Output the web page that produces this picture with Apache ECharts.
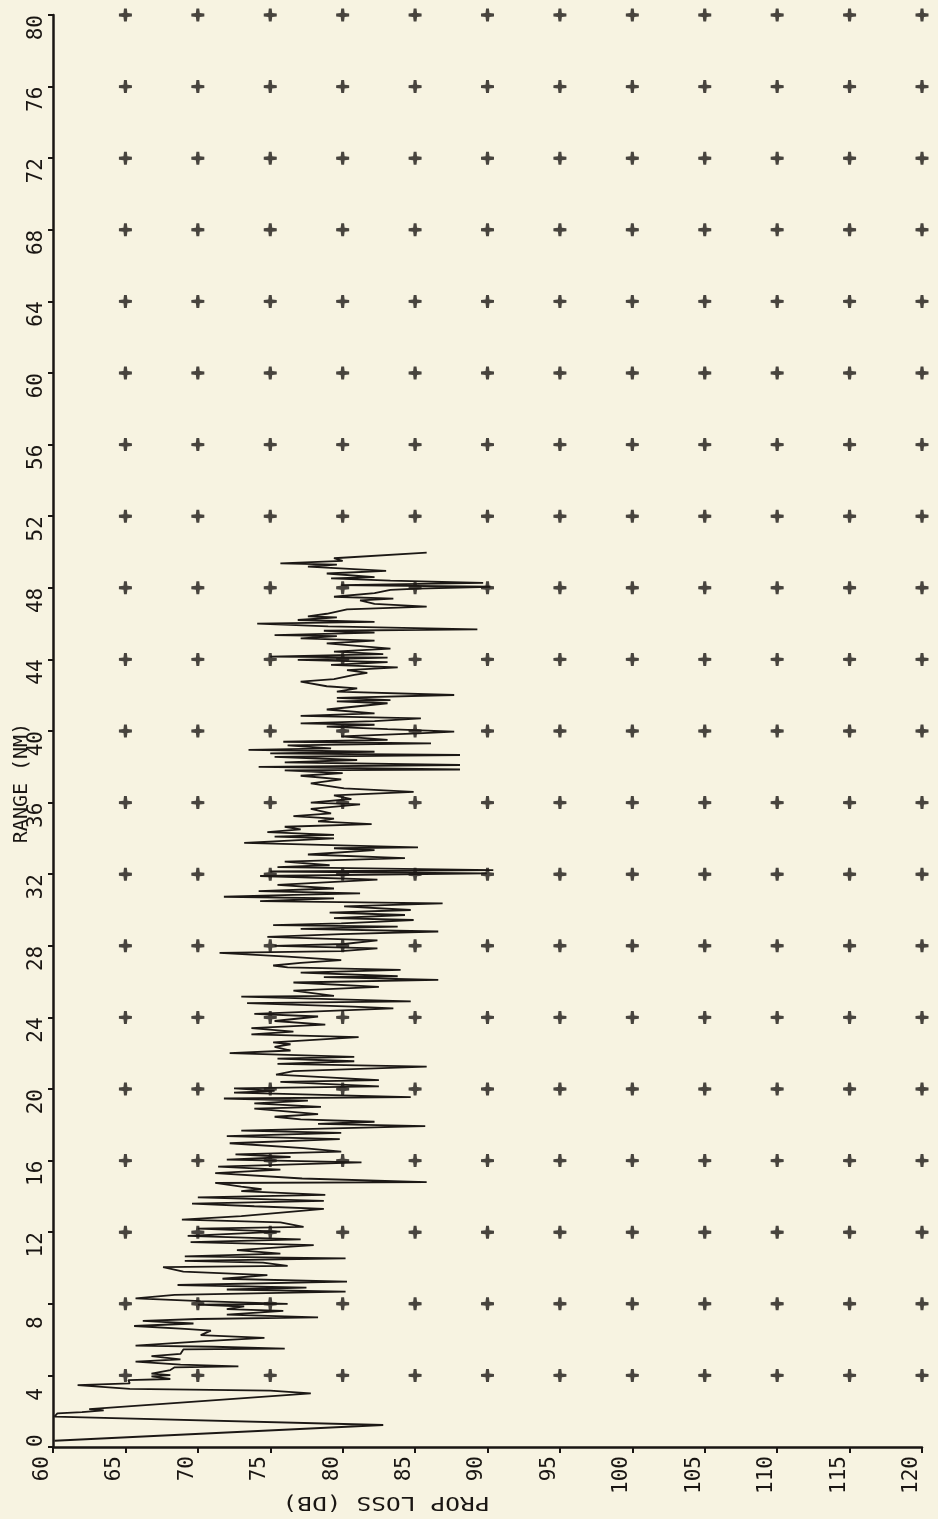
<!DOCTYPE html>
<html>
<head>
<meta charset="utf-8">
<script src="https://cdn.jsdelivr.net/npm/echarts@6/dist/echarts.min.js"></script>
<style>
html,body{margin:0;padding:0;background:#f7f3e1;}
#chart{width:938px;height:1519px;}
</style>
</head>
<body>
<div id="chart"></div>
<script>
// Axis ticks
const lossTicks = [65, 70, 75, 80, 85, 90, 95, 100, 105, 110, 115, 120];
const rangeTicks = [4, 8, 12, 16, 20, 24, 28, 32, 36, 40, 44, 48, 52, 56, 60, 64, 68, 72, 76, 80];

// Propagation loss trace: [range (NM), prop loss (dB)]
const traceBand0 = [
  [0.35,60.1],[1.23,82.8],[1.7,60.1],[1.88,60.3],[1.95,62.0],[2.05,63.5],[2.12,62.5],[3.0,77.8],
  [3.15,75.0],[3.25,65.3],[3.46,61.7],[3.55,65.3],[3.74,65.2],[3.8,68.1],[3.95,66.8],[4.02,68.1]
];
const traceBand1 = [
  [4.1,66.8],[4.3,68.1],[4.45,68.4],[4.5,72.8],[4.6,68.8],[4.77,65.7],[4.9,68.8],[5.08,66.8],
  [5.2,68.8],[5.45,69.0],[5.5,76.0],[5.6,71.1],[5.66,65.7],[5.9,70.2],[6.1,74.6],[6.25,70.2],
  [6.5,70.9],[6.6,69.1],[6.76,65.6],[6.9,69.7],[7.05,66.2],[7.15,70.0],[7.24,78.3],[7.4,72.0],
  [7.6,75.9],[7.7,72.0],[7.85,73.2],[7.95,70.0],[8.0,76.2],[8.15,70.2],[8.3,65.7],[8.5,68.4],
  [8.68,80.2],[8.8,72.0],[8.9,77.5],[9.05,68.6],[9.24,80.3],[9.4,71.7],[9.6,74.8],[9.8,69.0],
  [10.05,67.6],[10.12,76.2],[10.3,74.5],[10.4,69.1],[10.54,80.2],[10.65,69.1],[10.8,75.7],[11.0,72.7],
  [11.28,78.0],[11.45,69.5],[11.6,77.1],[11.8,69.3],[12.03,75.7]
];
const traceBand2 = [
  [12.2,70.0],[12.3,77.3],[12.55,75.7],[12.7,68.9],[12.9,73.0],[13.3,78.7],[13.45,73.9],[13.6,69.6],
  [13.75,78.7],[13.95,70.0],[14.08,78.8],[14.3,73.0],[14.4,74.4],[14.55,73.0],[14.75,71.2],[14.8,85.8],
  [15.0,77.2],[15.3,71.2],[15.5,75.7],[15.66,71.4],[15.9,81.3],[16.05,72.0],[16.2,76.4],[16.35,72.6],
  [16.5,79.9],[16.7,77.3],[16.97,72.2],[17.2,79.8],[17.37,72.0],[17.55,79.9],[17.67,73.0],[17.93,85.7],
  [18.05,78.3],[18.17,82.2],[18.3,77.1],[18.45,75.3],[18.6,78.3],[18.9,73.9],[19.0,78.5],[19.2,73.9],
  [19.35,77.6],[19.47,71.8],[19.55,84.7],[19.8,72.5],[19.9,75.3],[20.04,72.5],[20.15,82.5],[20.4,75.7],
  [20.5,82.5],[20.8,75.4],[21.0,76.6],[21.25,85.8],[21.4,75.5],[21.55,80.8],[21.7,75.5],[21.8,80.8],
  [22.0,72.2],[22.15,76.4],[22.35,75.3],[22.5,76.4],[22.6,75.2],[22.9,81.1],[23.05,73.7],[23.2,76.6],
  [23.4,73.7],[23.6,78.8],[23.8,75.3],[24.05,78.3],[24.2,73.9],[24.5,83.5],[24.6,80.7],[24.8,73.4],
  [24.9,84.7]
];
const traceBand3 = [
  [25.16,73.0],[25.2,79.4],[25.5,76.6],[25.7,82.5],[25.95,76.6],[26.1,86.6],[26.25,78.7],[26.3,83.8],
  [26.5,77.1],[26.65,84.0],[26.8,76.2],[26.9,75.2],[27.05,77.1],[27.2,79.9],[27.4,76.2],[27.6,71.5],
  [27.7,79.9],[27.86,82.4],[28.0,75.3],[28.1,80.1],[28.3,82.4],[28.5,74.8],[28.65,79.9],[28.8,86.6],
  [28.95,77.1],[29.07,83.8],[29.15,75.2],[29.25,79.9],[29.44,84.9],[29.55,79.4],[29.72,84.3],[29.85,79.1],
  [30.0,84.7],[30.2,80.1],[30.37,86.9],[30.5,74.3],[30.65,79.4],[30.74,71.8],[30.85,76.6],[30.93,81.2],
  [31.05,74.2],[31.2,79.4],[31.4,75.5],[31.7,82.4],[31.9,74.3],[32.05,89.95],[32.15,75.0],[32.23,90.4],
  [32.4,75.5],[32.5,79.1],[32.7,76.0],[32.9,84.3],[33.1,77.6],[33.35,82.2],[33.45,79.4],[33.5,85.2],
  [33.75,73.2],[34.0,79.4],[34.1,75.3],[34.2,79.4],[34.35,74.8],[34.5,77.1],[34.65,76.0],[34.8,82.0],
  [34.95,78.3],[35.1,79.4],[35.25,76.6],[35.4,79.2],[35.65,77.8],[35.9,81.2],[36.0,77.8],[36.2,80.6],
  [36.4,79.4],[36.6,84.9],[36.8,80.1],[37.08,77.8],[37.3,79.9],[37.5,77.1],[37.65,80.0],[37.8,76.0]
];
const traceBand4 = [
  [37.85,88.1],[38.0,74.2],[38.1,88.1],[38.25,76.0],[38.38,81.0],[38.55,75.3],[38.66,88.1],[38.75,75.0],
  [38.84,82.2],[38.95,73.5],[39.03,79.2],[39.2,76.2],[39.31,86.1],[39.4,75.9],[39.5,83.1],[39.7,79.9],
  [39.87,85.2],[39.96,87.7],[40.1,83.1],[40.24,78.9],[40.35,82.2],[40.43,77.1],[40.55,82.2],[40.7,85.4],
  [40.85,77.1],[40.99,82.2],[41.2,78.9],[41.55,83.1],[41.65,79.6],[41.73,83.3],[41.85,79.6],[42.01,87.7],
  [42.2,79.6],[42.38,81.0],[42.5,78.9],[42.76,77.1],[42.9,79.4],[43.13,80.8],[43.25,81.7],[43.4,80.3],
  [43.55,83.8],[43.69,79.2],[43.85,83.1],[43.97,76.9],[44.1,83.1],[44.15,75.0],[44.3,82.8],[44.43,79.4],
  [44.6,83.3],[44.9,78.9],[45.05,82.2],[45.18,77.1],[45.3,79.6],[45.36,75.3],[45.5,82.2],[45.6,78.7],
  [45.68,89.3],[45.85,79.0],[46.0,74.1],[46.1,82.2],[46.2,76.9],[46.35,79.6],[46.4,77.6],[46.55,78.9],
  [46.66,78.9],[46.8,80.3],[46.95,85.8],[47.1,82.2],[47.3,81.2],[47.4,83.5],[47.5,79.4],[47.7,82.2],
  [47.88,83.3],[47.95,85.2],[48.06,90.2],[48.15,79.9],[48.28,89.7],[48.4,83.3],[48.53,79.2],[48.6,82.2],
  [48.8,78.9],[48.95,83.0],[49.18,77.6],[49.3,79.6],[49.37,75.7],[49.5,80.0],[49.65,79.4],[49.96,85.8]
];

const ink = '#1a1613';
const fontFam = '"DejaVu Sans Mono", "Liberation Mono", monospace';

const traceData = [].concat(traceBand0, traceBand1, traceBand2, traceBand3, traceBand4)
  .map(p => [p[1], p[0]]);

const gridMarks = [];
lossTicks.forEach(l => rangeTicks.forEach(r => gridMarks.push([l, r])));

const plusPath = 'path://M3.9,0 L6.1,0 L6.5,3.5 L10,3.9 L10,6.1 L6.5,6.5 L6.1,10 L3.9,10 L3.5,6.5 L0,6.1 L0,3.9 L3.5,3.5 Z';

const chart = echarts.init(document.getElementById('chart'), null, {renderer: 'canvas'});
chart.setOption({
  backgroundColor: '#f7f3e1',
  animation: false,
  grid: {left: 53, right: 16, top: 15, bottom: 72},
  xAxis: {
    type: 'value', min: 60, max: 120, interval: 5,
    axisLine: {show: true, onZero: false, lineStyle: {color: ink, width: 2.5}},
    axisTick: {show: true, length: 6, lineStyle: {color: ink, width: 2}},
    splitLine: {show: false},
    axisLabel: {
      rotate: 90, align: 'right', verticalAlign: 'bottom', margin: 9,
      fontFamily: fontFam, fontSize: 21, color: ink
    }
  },
  yAxis: [{
    type: 'value', min: 0, max: 80, interval: 4,
    axisLine: {show: true, onZero: false, lineStyle: {color: ink, width: 2.5}},
    axisTick: {show: true, length: 5, lineStyle: {color: ink, width: 2}},
    splitLine: {show: false},
    axisLabel: {
      rotate: 90, align: 'right', verticalAlign: 'bottom', margin: 6,
      fontFamily: fontFam, fontSize: 21, color: ink,
      formatter: v => v === 0 ? '' : (v < 10 ? v + ' ' : String(v))
    }
  }, {
    type: 'value', min: 0, max: 80, interval: 4, position: 'left',
    axisLine: {show: false}, axisTick: {show: false}, splitLine: {show: false},
    axisLabel: {
      rotate: 90, align: 'left', verticalAlign: 'bottom', margin: 6,
      fontFamily: fontFam, fontSize: 21, color: ink,
      formatter: v => v === 0 ? '0' : ''
    }
  }],
  series: [{
    type: 'scatter', data: gridMarks, symbol: plusPath, symbolSize: 13,
    itemStyle: {color: '#1c1815'}, clip: false, silent: true, z: 3
  }, {
    type: 'line', data: traceData, showSymbol: false, smooth: false,
    lineStyle: {color: '#1c1815', width: 1.8}, silent: true, z: 4
  }],
  graphic: [{
    type: 'text', x: 22, y: 783, rotation: Math.PI / 2,
    style: {text: 'RANGE (NM)', x: 0, y: 0, font: '20px ' + fontFam, fill: ink,
      textAlign: 'center', textVerticalAlign: 'middle', align: 'center', verticalAlign: 'middle'}
  }, {
    type: 'text', x: 386, y: 1502, rotation: Math.PI, scaleX: 1.23,
    style: {text: 'PROP LOSS (DB)', x: 0, y: 0, font: '20px ' + fontFam, fill: ink,
      textAlign: 'center', textVerticalAlign: 'middle', align: 'center', verticalAlign: 'middle'}
  }]
});
</script>
</body>
</html>
